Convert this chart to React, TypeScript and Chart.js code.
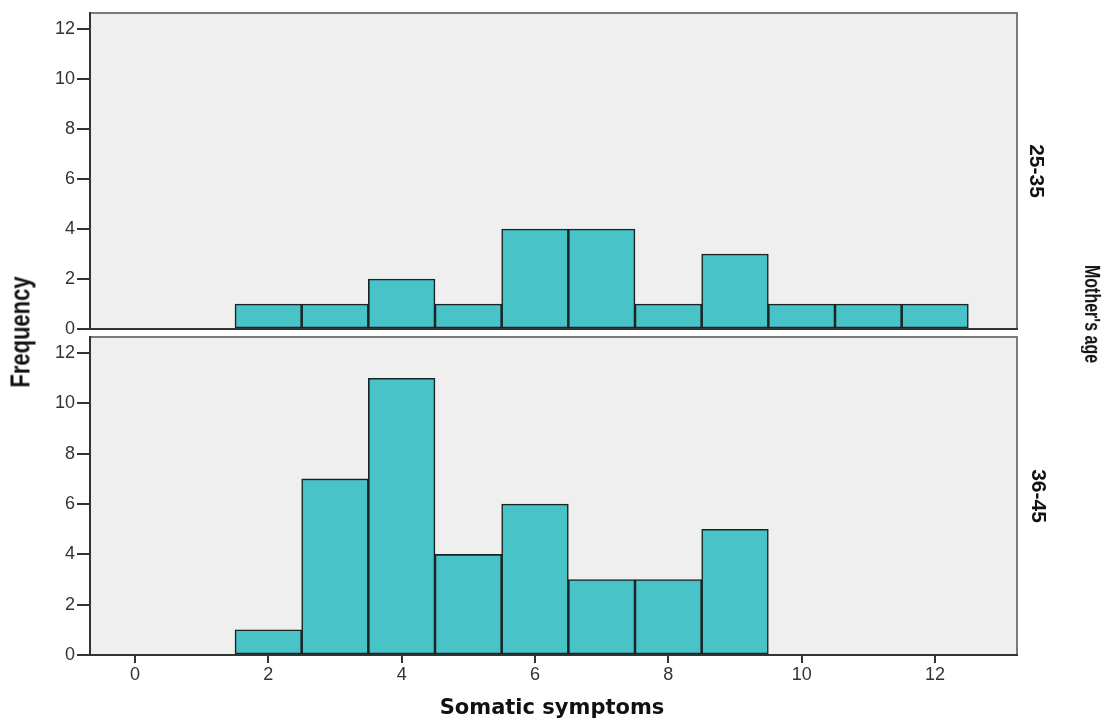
import React, { useEffect, useRef } from "react";
import { Chart, registerables } from "chart.js";

Chart.register(...registerables);

// ---- data ----
const BINS_25_35 = [2, 3, 4, 5, 6, 7, 8, 9, 10, 11, 12];
const COUNTS_25_35 = [1, 1, 2, 1, 4, 4, 1, 3, 1, 1, 1];
const BINS_36_45 = [2, 3, 4, 5, 6, 7, 8, 9];
const COUNTS_36_45 = [1, 7, 11, 4, 6, 3, 3, 5];
const X_TICKS = [0, 2, 4, 6, 8, 10, 12];
const Y_TICKS = [0, 2, 4, 6, 8, 10, 12];
const PANEL_LABELS = ["25-35", "36-45"];
const X_TITLE = "Somatic symptoms";
const Y_TITLE = "Frequency";
const PANEL_TITLE = "Mother's age";

const X_MIN = -0.675;
const X_MAX = 13.23;
const Y_MAX = 12.64;

const BAR_FILL = "#48C3C8";
const BAR_BORDER = "#1a2424";
const TICK_FONT = { family: "'Liberation Sans', Arial, sans-serif", size: 18 };

const panelPlugin = {
  id: "panelFrame",
  beforeDraw(chart: any) {
    const { ctx, chartArea: a } = chart;
    ctx.save();
    ctx.fillStyle = "#efefef";
    ctx.fillRect(a.left, a.top, a.right - a.left, a.bottom - a.top);
    ctx.restore();
  },
  afterDraw(chart: any) {
    const { ctx, chartArea: a } = chart;
    ctx.save();
    ctx.lineWidth = 2;
    ctx.strokeStyle = "#7a7a7a";
    ctx.beginPath();
    ctx.moveTo(a.left, a.top);
    ctx.lineTo(a.right, a.top);
    ctx.lineTo(a.right, a.bottom);
    ctx.stroke();
    ctx.strokeStyle = "#333333";
    ctx.beginPath();
    ctx.moveTo(a.left, a.top - 1);
    ctx.lineTo(a.left, a.bottom);
    ctx.lineTo(a.right + 1, a.bottom);
    ctx.stroke();
    ctx.restore();
  },
};

function buildConfig(bins: number[], counts: number[], showX: boolean, padding: any) {
  return {
    type: "bar" as const,
    data: {
      datasets: [
        {
          data: bins.map((b, i) => ({ x: b, y: counts[i] })),
          backgroundColor: BAR_FILL,
          borderColor: BAR_BORDER,
          borderWidth: 1.6,
          borderSkipped: false,
          barPercentage: 1,
          categoryPercentage: 1,
        },
      ],
    },
    options: {
      responsive: false,
      animation: false,
      devicePixelRatio: 1,
      layout: { padding },
      plugins: { legend: { display: false }, tooltip: { enabled: false } },
      scales: {
        x: {
          type: "linear",
          min: X_MIN,
          max: X_MAX,
          offset: false,
          display: showX,
          afterBuildTicks: (axis: any) => {
            axis.ticks = X_TICKS.map((v) => ({ value: v }));
          },
          afterFit: (axis: any) => {
            if (showX) axis.height = 64;
            axis.paddingLeft = 0;
            axis.paddingRight = 0;
          },
          grid: {
            offset: false,
            drawOnChartArea: false,
            drawTicks: true,
            tickLength: 8,
            color: "#333",
            lineWidth: 2,
          },
          border: { display: false },
          ticks: { font: TICK_FONT, color: "#333", padding: 1, maxRotation: 0 },
        },
        y: {
          type: "linear",
          min: 0,
          max: Y_MAX,
          afterBuildTicks: (axis: any) => {
            axis.ticks = Y_TICKS.map((v) => ({ value: v }));
          },
          afterFit: (axis: any) => {
            axis.width = 90;
            axis.paddingTop = 0;
            axis.paddingBottom = 0;
          },
          grid: {
            drawOnChartArea: false,
            drawTicks: true,
            tickLength: 13,
            color: "#333",
            lineWidth: 2,
          },
          border: { display: false },
          ticks: { font: TICK_FONT, color: "#333", padding: 2 },
        },
      },
    },
    plugins: [panelPlugin],
  };
}

function Panel(props: {
  bins: number[];
  counts: number[];
  showX: boolean;
  top: number;
  height: number;
  padding: any;
}) {
  const ref = useRef<HTMLCanvasElement | null>(null);
  useEffect(() => {
    if (!ref.current) return;
    const chart = new Chart(
      ref.current,
      buildConfig(props.bins, props.counts, props.showX, props.padding) as any
    );
    return () => chart.destroy();
  }, []);
  return (
    <canvas
      ref={ref}
      width={1110}
      height={props.height}
      style={{
        position: "absolute",
        left: 0,
        top: props.top,
        width: 1110,
        height: props.height,
        display: "block",
      }}
    />
  );
}

const labelBase: React.CSSProperties = {
  position: "absolute",
  whiteSpace: "nowrap",
  lineHeight: 1,
  fontFamily: "'Liberation Sans', Arial, sans-serif",
  fontWeight: "bold",
  color: "#111",
};

export default function App() {
  return (
    <div
      style={{
        position: "absolute",
        left: 0,
        top: 0,
        width: 1110,
        height: 719,
        background: "#fff",
        overflow: "hidden",
      }}
    >
      <Panel
        bins={BINS_25_35}
        counts={COUNTS_25_35}
        showX={false}
        top={0}
        height={345}
        padding={{ left: 0, right: 93, top: 13, bottom: 16 }}
      />
      <Panel
        bins={BINS_36_45}
        counts={COUNTS_36_45}
        showX={true}
        top={327}
        height={392}
        padding={{ left: 0, right: 93, top: 10, bottom: 0 }}
      />
      <div
        style={{
          ...labelBase,
          left: 21,
          top: 332,
          fontSize: 22,
          transform: "translate(-50%, -50%) rotate(-90deg) scaleY(1.27)",
        }}
      >
        {Y_TITLE}
      </div>
      <div
        style={{
          ...labelBase,
          left: 1092,
          top: 314,
          fontSize: 16,
          transform: "translate(-50%, -50%) rotate(90deg) scaleY(1.35)",
        }}
      >
        {PANEL_TITLE}
      </div>
      <div
        style={{
          ...labelBase,
          left: 1037,
          top: 171,
          fontSize: 21,
          transform: "translate(-50%, -50%) rotate(90deg)",
        }}
      >
        {PANEL_LABELS[0]}
      </div>
      <div
        style={{
          ...labelBase,
          left: 1039,
          top: 496,
          fontSize: 21,
          transform: "translate(-50%, -50%) rotate(90deg)",
        }}
      >
        {PANEL_LABELS[1]}
      </div>
      <div
        style={{
          ...labelBase,
          left: 552,
          top: 707,
          fontSize: 21,
          fontFamily: "'DejaVu Sans', Verdana, sans-serif",
          transform: "translate(-50%, -50%)",
        }}
      >
        {X_TITLE}
      </div>
    </div>
  );
}
